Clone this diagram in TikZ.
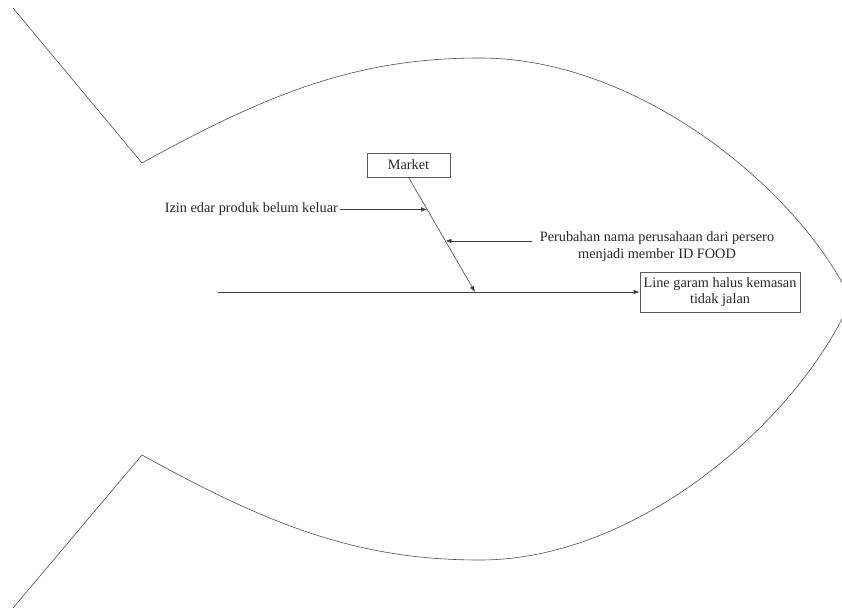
\documentclass[tikz,border=0pt]{standalone}
\usepackage{fontspec}
\setmainfont{Liberation Serif}
\usetikzlibrary{arrows.meta,calc}
\begin{document}
\begin{tikzpicture}[x=1pt,y=-1pt,
  bone/.style={draw=black!75,line width=0.6pt},
  outline/.style={draw=black!70,line width=0.6pt},
  cause/.style={bone,-{Latex[length=6pt,width=4.5pt]}},
  lbl/.style={font=\fontsize{14.3}{16.5}\selectfont,text=black!85,inner sep=2pt},
  boxed/.style={lbl,draw=black!65,fill=white,line width=0.6pt,inner sep=0pt,align=center}]
\useasboundingbox (0,0) rectangle (842,610);

% fish outline: tail and body
\draw[outline] (13,8) -- (142,163)
  .. controls (272,91) and (360,58) .. (480,58)
  .. controls (640,58) and (800,191) .. (851,300);
\draw[outline] (13,608) -- (142,455)
  .. controls (272,527) and (360,560) .. (480,560)
  .. controls (640,560) and (800,418) .. (851,300);

% head (effect) and category box
\node[boxed,minimum width=160pt,minimum height=40pt] (eff) at (720,292)
  {Line garam halus kemasan\\tidak jalan};
\node[boxed,minimum width=83pt,minimum height=24pt] (mk) at (408.5,165) {Market};

% spine and branch
\coordinate (spstart) at (218,292);
\coordinate (sp) at (475,292);
\draw[cause] (spstart) -- (eff.west);
\draw[cause] (mk.south) -- (sp);

% causes on the branch
\coordinate (p1) at ($(mk.south)!0.28!(sp)$);
\coordinate (p2) at ($(mk.south)!0.555!(sp)$);
\path (p1) ++(-87,0) node[lbl,anchor=east] (c1) {Izin edar produk belum keluar};
\draw[cause] (c1.east) -- (p1);
\node[lbl,align=center] (c2) at (657,246.5)
  {Perubahan nama perusahaan dari persero\\menjadi member ID FOOD};
\coordinate (c2tail) at ($(p2)+(87,0)$);
\draw[cause] (c2tail) -- (p2);
\end{tikzpicture}
\end{document}
